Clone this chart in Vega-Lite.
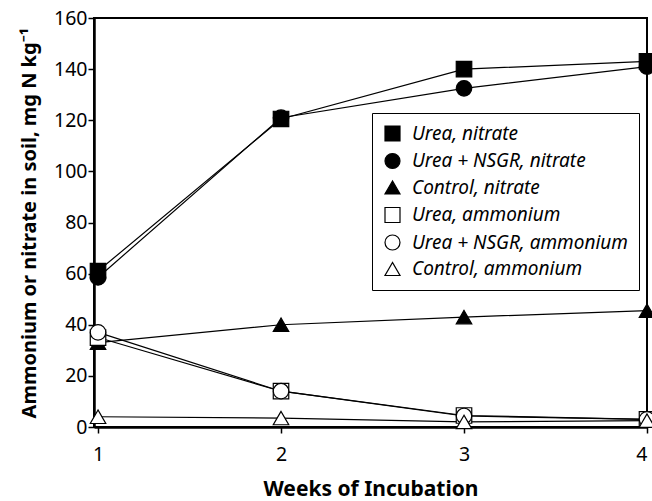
{
  "$schema": "https://vega.github.io/schema/vega-lite/v6.json",
  "autosize": {"type": "none"},
  "width": 553,
  "height": 409,
  "padding": {"left": 94, "top": 18, "right": 5, "bottom": 74},
  "background": "white",
  "config": {
    "font": "Noto Sans",
    "view": {"stroke": "black", "strokeWidth": 2},
    "axis": {"grid": false, "domainColor": "black", "domainWidth": 2.5, "tickColor": "black", "tickWidth": 1.5, "labelColor": "black", "titleColor": "black", "labelFontSize": 19.5, "titleFontSize": 20, "titleFontWeight": "bold", "labelFont": "Noto Sans", "titleFont": "Noto Sans", "tickSize": 6}
  },
  "data": {
    "values": [
      {"week": 1, "series": "Urea, nitrate", "value": 61},
      {"week": 2, "series": "Urea, nitrate", "value": 120.5},
      {"week": 3, "series": "Urea, nitrate", "value": 140},
      {"week": 4, "series": "Urea, nitrate", "value": 143},
      {"week": 1, "series": "Urea + NSGR, nitrate", "value": 58.5},
      {"week": 2, "series": "Urea + NSGR, nitrate", "value": 121},
      {"week": 3, "series": "Urea + NSGR, nitrate", "value": 132.5},
      {"week": 4, "series": "Urea + NSGR, nitrate", "value": 141},
      {"week": 1, "series": "Control, nitrate", "value": 33},
      {"week": 2, "series": "Control, nitrate", "value": 40},
      {"week": 3, "series": "Control, nitrate", "value": 43},
      {"week": 4, "series": "Control, nitrate", "value": 45.5},
      {"week": 1, "series": "Urea, ammonium", "value": 35},
      {"week": 2, "series": "Urea, ammonium", "value": 14},
      {"week": 3, "series": "Urea, ammonium", "value": 4.5},
      {"week": 4, "series": "Urea, ammonium", "value": 3},
      {"week": 1, "series": "Urea + NSGR, ammonium", "value": 37},
      {"week": 2, "series": "Urea + NSGR, ammonium", "value": 14},
      {"week": 3, "series": "Urea + NSGR, ammonium", "value": 4.3},
      {"week": 4, "series": "Urea + NSGR, ammonium", "value": 3},
      {"week": 1, "series": "Control, ammonium", "value": 4},
      {"week": 2, "series": "Control, ammonium", "value": 3.5},
      {"week": 3, "series": "Control, ammonium", "value": 2},
      {"week": 4, "series": "Control, ammonium", "value": 2.5}
    ]
  },
  "encoding": {
    "x": {"field": "week", "type": "quantitative", "scale": {"domain": [0.978, 4], "nice": false, "zero": false}, "axis": {"values": [1, 2, 3, 4], "title": "Weeks of Incubation", "titleFontSize": 21, "titlePadding": 15, "labelPadding": 12}},
    "y": {"field": "value", "type": "quantitative", "scale": {"domain": [0, 160], "nice": false}, "axis": {"values": [0, 20, 40, 60, 80, 100, 120, 140, 160], "title": "Ammonium or nitrate in soil, mg N kg⁻¹", "titleFontSize": 20, "titlePadding": 14, "tickSize": 6, "labelPadding": 1}}
  },
  "layer": [
    {
      "mark": {"type": "line", "color": "black", "strokeWidth": 1.2},
      "encoding": {"detail": {"field": "series"}}
    },
    {
      "mark": {"type": "point", "filled": false, "strokeWidth": 1.2, "size": 240, "opacity": 1},
      "encoding": {
        "shape": {"field": "series", "type": "nominal", "sort": null,
          "scale": {"domain": ["Urea, nitrate", "Urea + NSGR, nitrate", "Control, nitrate", "Urea, ammonium", "Urea + NSGR, ammonium", "Control, ammonium"], "range": ["square", "circle", "triangle-up", "square", "circle", "triangle-up"]},
          "legend": {"title": null, "orient": "none", "legendX": 278, "legendY": 95, "strokeColor": "black", "padding": 11, "rowPadding": 6.5, "labelFontSize": 19, "labelFontStyle": "italic", "labelFont": "Noto Sans", "labelColor": "black", "labelOffset": 10, "symbolSize": 225, "symbolStrokeWidth": 1.2, "labelLimit": 400, "symbolOffset": 0, "fillColor": "white"}},
        "fill": {"field": "series", "type": "nominal", "sort": null,
          "scale": {"domain": ["Urea, nitrate", "Urea + NSGR, nitrate", "Control, nitrate", "Urea, ammonium", "Urea + NSGR, ammonium", "Control, ammonium"], "range": ["black", "black", "black", "white", "white", "white"]},
          "legend": {"title": null, "orient": "none", "legendX": 278, "legendY": 95, "strokeColor": "black", "padding": 11, "rowPadding": 6.5, "labelFontSize": 19, "labelFontStyle": "italic", "labelFont": "Noto Sans", "labelColor": "black", "labelOffset": 10, "symbolSize": 225, "symbolStrokeWidth": 1.2, "labelLimit": 400, "symbolOffset": 0, "fillColor": "white"}},
        "stroke": {"field": "series", "type": "nominal", "sort": null,
          "scale": {"domain": ["Urea, nitrate", "Urea + NSGR, nitrate", "Control, nitrate", "Urea, ammonium", "Urea + NSGR, ammonium", "Control, ammonium"], "range": ["black", "black", "black", "black", "black", "black"]},
          "legend": {"title": null, "orient": "none", "legendX": 278, "legendY": 95, "strokeColor": "black", "padding": 11, "rowPadding": 6.5, "labelFontSize": 19, "labelFontStyle": "italic", "labelFont": "Noto Sans", "labelColor": "black", "labelOffset": 10, "symbolSize": 225, "symbolStrokeWidth": 1.2, "labelLimit": 400, "symbolOffset": 0, "fillColor": "white"}}
      }
    }
  ]
}
